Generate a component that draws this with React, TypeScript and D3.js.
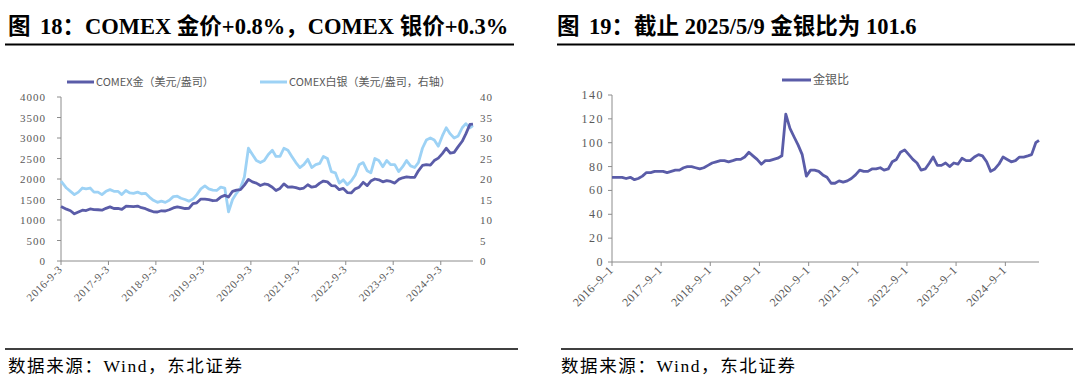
import * as d3 from "d3";
import React from "react";

// monthly readings, Sep 2016 .. May 2025
const goldPrice = [
  1330, 1265, 1225, 1150,
  1195, 1240, 1230, 1270, 1255, 1250, 1240, 1285, 1320, 1280, 1285, 1260,
  1335, 1330, 1325, 1340, 1300, 1275, 1235, 1200, 1195, 1225, 1220, 1250,
  1295, 1320, 1300, 1280, 1285, 1400, 1420, 1510, 1510, 1495, 1470, 1480,
  1560, 1600, 1560, 1700, 1730, 1740, 1850, 1990, 1930, 1900, 1840, 1880,
  1860, 1800, 1720, 1770, 1880, 1800, 1810, 1790, 1760, 1780, 1860, 1800,
  1820, 1900, 1950, 1930, 1840, 1830, 1740, 1770, 1670, 1660, 1760, 1800,
  1920, 1840, 1950, 2000, 1980, 1930, 1960, 1940, 1900, 1990, 2030, 2050,
  2040, 2040, 2200, 2330, 2350, 2340, 2450, 2510, 2620, 2750, 2630, 2650,
  2790, 2920, 3100, 3330, 3340,
];

const silverPrice = [
  19.5, 17.8, 17.0, 16.2,
  16.8, 17.8, 17.6, 17.8, 16.8, 16.8, 16.2, 17.0, 17.4, 17.0, 17.0, 16.2,
  17.2, 16.6, 16.5, 16.8, 16.4, 16.5, 15.6, 14.8, 14.3, 14.6, 14.3, 14.8,
  15.7, 15.8, 15.3, 15.0, 14.6, 15.1, 16.2, 17.6, 18.3, 17.6, 17.3, 17.2,
  18.0, 17.8, 12.0, 15.0, 16.5, 17.8, 20.5, 27.5, 26.0, 24.5, 24.0, 24.5,
  26.0, 27.0, 25.5, 25.5, 27.5, 27.0, 25.5, 24.0, 22.8, 23.5, 24.8, 22.8,
  23.5, 23.8, 25.5, 25.0, 21.8, 21.5, 19.0, 19.8, 18.6, 19.5, 21.0, 23.5,
  24.0, 22.0, 21.5, 25.0, 24.5, 23.0, 24.5, 23.5, 23.5, 21.8, 23.0, 24.5,
  23.2, 22.8, 24.0, 27.5, 29.5, 30.0, 29.5, 28.0, 30.5, 32.5, 31.0, 30.0,
  30.5, 32.5, 33.5, 32.5, 33.0,
];

const goldSilverRatio = [
  71, 71, 71, 70,
  71, 69, 70, 72, 75, 75, 76, 76, 76, 75, 76, 77,
  77, 79, 80, 80, 79, 78, 79, 81, 83, 84, 85, 85,
  84, 85, 86, 86, 88, 92, 89, 86, 82, 85, 85, 86,
  87, 89, 124, 112, 105, 98, 90, 72, 77, 77, 76, 73,
  71, 66, 66, 68, 67, 68, 70, 73, 77, 76, 76, 78,
  78, 79, 77, 78, 84, 86, 92, 94, 90, 86, 83, 77,
  78, 83, 88, 81, 81, 83, 80, 83, 82, 87, 85, 85,
  88, 90, 89, 84, 76, 78, 82, 88, 86, 84, 85, 88,
  88, 89, 90, 100, 102,
];

const leftTicks = [0, 500, 1000, 1500, 2000, 2500, 3000, 3500, 4000];
const rightTicks = [0, 5, 10, 15, 20, 25, 30, 35, 40];
const ratioTicks = [0, 20, 40, 60, 80, 100, 120, 140];
const years = [2016, 2017, 2018, 2019, 2020, 2021, 2022, 2023, 2024];

const startL = new Date(2016, 8, 3);
const startR = new Date(2016, 8, 1);
const endDate = new Date(2025, 4, 9);

const months = d3.timeMonth.range(new Date(2016, 8, 1), new Date(2025, 5, 1));
const dates = (start: Date) =>
  months.map((m, i) =>
    i === 0 ? start : i === months.length - 1 ? endDate : d3.timeDay.offset(m, 14)
  );

const GOLD = "#5a5ca8";
const SILVER = "#9dd2f5";
const AXIS = "#8c8c8c";
const LABEL = "#595959";
const SERIF = "'Liberation Serif', 'Noto Sans CJK SC', serif";
const CJK = "'Noto Sans CJK SC', sans-serif";

function Title({ x, num, rest }: { x: number; num: string; rest: string }) {
  return (
    <g fontFamily={SERIF} fontWeight="bold" fontSize={22.5} fill="#000">
      <text x={x} y={34}>图</text>
      <text x={x + 32} y={34}>{num}{rest}</text>
    </g>
  );
}

function LeftChart() {
  const ds = dates(startL);
  const x = d3.scaleTime().domain([startL, endDate]).range([61, 473]);
  const yL = d3.scaleLinear().domain([0, 4000]).range([261, 97]);
  const yR = d3.scaleLinear().domain([0, 40]).range([261, 97]);
  const goldLine = d3.line<number>().x((_, i) => x(ds[i])).y((d) => yL(d));
  const silverLine = d3.line<number>().x((_, i) => x(ds[i])).y((d) => yR(d));
  return (
    <g>
      <Title x={8} num="18" rest="：COMEX 金价+0.8%，COMEX 银价+0.3%" />
      <line x1={5} x2={514} y1={44.5} y2={44.5} stroke="#000" strokeWidth={2} />

      <line x1={67} x2={94} y1={82} y2={82} stroke={GOLD} strokeWidth={3} />
      <text x={96} y={86} fontFamily={CJK} fontSize={11} fill={LABEL}>COMEX金（美元/盎司）</text>
      <line x1={260} x2={287} y1={82} y2={82} stroke={SILVER} strokeWidth={3} />
      <text x={289} y={86} fontFamily={CJK} fontSize={11} fill={LABEL}>COMEX白银（美元/盎司，右轴）</text>

      {leftTicks.map((t) => (
        <g key={t}>
          <line x1={57} x2={61} y1={yL(t)} y2={yL(t)} stroke={AXIS} />
          <text x={46} y={yL(t) + 4} textAnchor="end" fontFamily={SERIF} fontSize={11} letterSpacing={1} fill={LABEL}>{t}</text>
        </g>
      ))}
      {rightTicks.map((t) => (
        <text key={t} x={480} y={yR(t) + 4} fontFamily={SERIF} fontSize={11} letterSpacing={1} fill={LABEL}>{t}</text>
      ))}
      <line x1={61} x2={61} y1={97} y2={261} stroke={AXIS} />
      <line x1={61} x2={473} y1={261} y2={261} stroke={AXIS} />
      {years.map((yr) => {
        const px = x(new Date(yr, 8, 3));
        return (
          <g key={yr}>
            <line x1={px} x2={px} y1={261} y2={265} stroke={AXIS} />
            <text transform={`translate(${px + 2},${270}) rotate(-45)`} textAnchor="end" fontFamily={SERIF} fontSize={11} letterSpacing={0.6} fill={LABEL}>{`${yr}-9-3`}</text>
          </g>
        );
      })}
      <path d={silverLine(silverPrice) ?? ""} fill="none" stroke={SILVER} strokeWidth={2.8} strokeLinejoin="round" />
      <path d={goldLine(goldPrice) ?? ""} fill="none" stroke={GOLD} strokeWidth={2.8} strokeLinejoin="round" />

      <line x1={5} x2={518} y1={349} y2={349} stroke="#000" strokeWidth={1.5} />
      <text x={8} y={372} fontFamily={SERIF} fontSize={17.5} textLength={234} lengthAdjust="spacing" fill="#000">数据来源：Wind，东北证券</text>
    </g>
  );
}

function RightChart() {
  const ds = dates(startR);
  const x = d3.scaleTime().domain([startR, endDate]).range([612, 1039]);
  const y = d3.scaleLinear().domain([0, 140]).range([262, 95]);
  const ratioLine = d3.line<number>().x((_, i) => x(ds[i])).y((d) => y(d));
  return (
    <g>
      <Title x={557} num="19" rest="：截止 2025/5/9 金银比为 101.6" />
      <line x1={557} x2={1075} y1={44.5} y2={44.5} stroke="#000" strokeWidth={2} />

      <line x1={782} x2={811} y1={80} y2={80} stroke={GOLD} strokeWidth={3} />
      <text x={813} y={84} fontFamily={CJK} fontSize={12} fill={LABEL}>金银比</text>

      {ratioTicks.map((t) => (
        <g key={t}>
          <line x1={608} x2={612} y1={y(t)} y2={y(t)} stroke={AXIS} />
          <text x={604} y={y(t) + 4} textAnchor="end" fontFamily={SERIF} fontSize={12} letterSpacing={1.5} fill={LABEL}>{t}</text>
        </g>
      ))}
      <line x1={612} x2={612} y1={95} y2={262} stroke={AXIS} />
      <line x1={612} x2={1039} y1={262} y2={262} stroke={AXIS} />
      {years.map((yr) => {
        const px = x(new Date(yr, 8, 1));
        return (
          <g key={yr}>
            <line x1={px} x2={px} y1={262} y2={266} stroke={AXIS} />
            <text transform={`translate(${px + 2},${271}) rotate(-45)`} textAnchor="end" fontFamily={SERIF} fontSize={12} letterSpacing={0.4} fill={LABEL}>{`${yr}–9–1`}</text>
          </g>
        );
      })}
      <path d={ratioLine(goldSilverRatio) ?? ""} fill="none" stroke={GOLD} strokeWidth={2.8} strokeLinejoin="round" />

      <line x1={561} x2={1073} y1={349} y2={349} stroke="#000" strokeWidth={1.5} />
      <text x={561} y={372} fontFamily={SERIF} fontSize={17.5} textLength={234} lengthAdjust="spacing" fill="#000">数据来源：Wind，东北证券</text>
    </g>
  );
}

export default function App() {
  return (
    <svg width={1080} height={392} style={{ position: "absolute", left: 0, top: 0, background: "#fff" }}>
      <LeftChart />
      <RightChart />
    </svg>
  );
}
